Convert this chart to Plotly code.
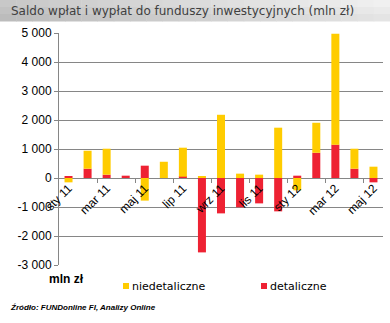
import plotly.graph_objects as go

months = ["sty 11", "lut 11", "mar 11", "kwi 11", "maj 11", "cze 11", "lip 11", "sie 11",
          "wrz 11", "paź 11", "lis 11", "gru 11", "sty 12", "lut 12", "mar 12", "kwi 12", "maj 12"]
detaliczne = [45, 320, 115, 80, 425, 0, 45, -2565, -1220, -1010, -875, -1150, 80, 870, 1150, 320, -150]
niedetaliczne = [-150, 620, 895, 0, -780, 560, 1000, 45, 2180, 150, 115, 1735, -425, 1035, 3825, 690, 390]
label_idx = [0, 2, 4, 6, 8, 10, 12, 14, 16]
y_ticks = [-3000, -2000, -1000, 0, 1000, 2000, 3000, 4000, 5000]
y_ticktext = ["-3 000", "-2 000", "-1 000", "0", "1 000", "2 000", "3 000", "4 000", "5 000"]

YELLOW = "#FFCC00"
RED = "#EE2233"
GRID = "#868686"

W, H = 390, 323
L, R, T, B = 59, 7, 33, 58
pw, ph = W - L - R, H - T - B

def px(x):
    return (x - L) / pw

def py(y):
    return (H - B - y) / ph

xs = list(range(len(months)))

fig = go.Figure()
fig.add_trace(go.Bar(x=xs, y=detaliczne, name="detaliczne", marker_color=RED,
                     marker_line_width=0, width=0.42, showlegend=False))
fig.add_trace(go.Bar(x=xs, y=niedetaliczne, name="niedetaliczne", marker_color=YELLOW,
                     marker_line_width=0, width=0.42, showlegend=False))

shapes = []
# title bar gradient
n = 24
for i in range(n):
    for j in range(3):
        t = i / (n - 1)
        base = 200 + int(40 * t) - j * 6
        c = f"rgb({base},{base},{base})"
        shapes.append(dict(type="rect", xref="paper", yref="paper",
                           x0=px(W * i / n), x1=px(W * (i + 1) / n + 0.5),
                           y0=py(j * 7), y1=py((j + 1) * 7 + 0.5),
                           fillcolor=c, line_width=0, layer="below"))
# legend squares
shapes.append(dict(type="rect", xref="paper", yref="paper", x0=px(123), x1=px(129),
                   y0=py(283), y1=py(289), fillcolor=YELLOW, line_width=0))
shapes.append(dict(type="rect", xref="paper", yref="paper", x0=px(261), x1=px(267),
                   y0=py(283), y1=py(289), fillcolor=RED, line_width=0))

annotations = [
    dict(text="Saldo wpłat i wypłat do funduszy inwestycyjnych (mln zł)", xref="paper", yref="paper",
         x=px(9), y=py(11), xanchor="left", yanchor="middle", showarrow=False,
         font=dict(family="DejaVu Sans", size=12, color="#404040")),
    dict(text="<b>mln zł</b>", xref="paper", yref="paper", x=px(47), y=py(279),
         xanchor="left", yanchor="middle", showarrow=False,
         font=dict(family="Liberation Sans", size=12, color="#000000")),
    dict(text="niedetaliczne", xref="paper", yref="paper", x=px(130), y=py(286),
         xanchor="left", yanchor="middle", showarrow=False,
         font=dict(family="DejaVu Sans", size=11, color="#000000")),
    dict(text="detaliczne", xref="paper", yref="paper", x=px(268), y=py(286),
         xanchor="left", yanchor="middle", showarrow=False,
         font=dict(family="DejaVu Sans", size=11, color="#000000")),
    dict(text="<b><i>Źródło: FUNDonline FI, Analizy Online</i></b>", xref="paper", yref="paper",
         x=px(8), y=py(307), xanchor="left", yanchor="middle", showarrow=False,
         font=dict(family="Liberation Sans", size=8, color="#000000")),
]

fig.update_layout(
    width=W, height=H,
    margin=dict(l=L, r=R, t=T, b=B, pad=0),
    paper_bgcolor="white", plot_bgcolor="white",
    barmode="relative",
    showlegend=False,
    shapes=shapes,
    annotations=annotations,
    xaxis=dict(
        range=[-0.5, len(months) - 0.5],
        tickmode="array",
        tickvals=[xs[i] for i in label_idx],
        ticktext=[months[i] for i in label_idx],
        tickangle=-45,
        ticks="",
        showgrid=False, zeroline=False,
        showline=False,
        anchor="free", position=3000 / 8000,
        tickfont=dict(family="Liberation Sans", size=12, color="#000000"),
        minor=dict(tickmode="array", tickvals=[i + 1.5 for i in range(0, 15, 2)],
                   ticks="outside", ticklen=4, tickcolor=GRID, tickwidth=1, showgrid=False),
    ),
    yaxis=dict(
        range=[-3000, 5000],
        tickmode="array", tickvals=y_ticks, ticktext=y_ticktext,
        showgrid=True, gridcolor=GRID, gridwidth=1,
        zeroline=True, zerolinecolor=GRID, zerolinewidth=1,
        showline=True, linecolor=GRID, linewidth=1,
        ticks="outside", ticklen=4, tickcolor=GRID,
        tickfont=dict(family="Liberation Sans", size=12, color="#000000"),
    ),
)

fig.write_html("out.html")
